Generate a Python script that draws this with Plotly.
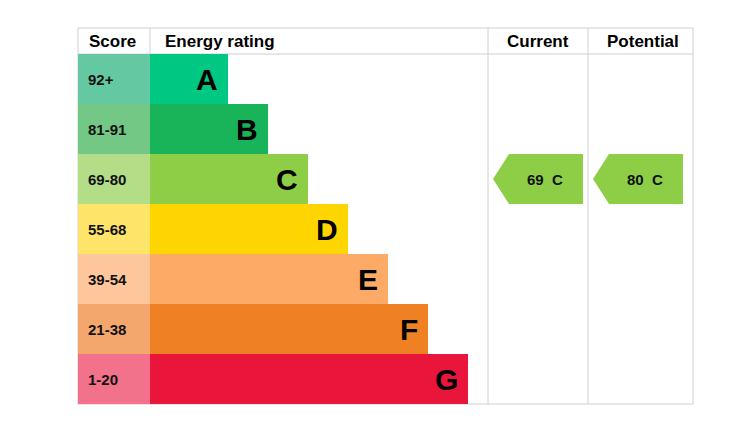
import plotly.graph_objects as go

# EPC bands
bands = ["A", "B", "C", "D", "E", "F", "G"]
scores = ["92+", "81-91", "69-80", "55-68", "39-54", "21-38", "1-20"]
bar_len = [78, 118, 158, 198, 238, 278, 318]
band_colors = ["#00c781", "#19b459", "#8dce46", "#ffd500", "#fcaa65", "#ef8023", "#e9153b"]
score_colors = ["#64c8a2", "#74c886", "#b4dd88", "#ffe46a", "#fdc69b", "#f4a76c", "#f2728c"]
current = 69
current_band = "C"
potential = 80
potential_band = "C"

rows = list(range(len(bands)))
fig = go.Figure()

fig.add_trace(go.Bar(orientation="h", y=rows, x=[72] * len(rows), base=70, width=1,
                     marker=dict(color=score_colors, line=dict(width=0)), hoverinfo="skip"))
fig.add_trace(go.Bar(orientation="h", y=rows, x=bar_len, base=142, width=1,
                     marker=dict(color=band_colors, line=dict(width=0)), hoverinfo="skip"))

for i, (b, s, L) in enumerate(zip(bands, scores, bar_len)):
    fig.add_annotation(x=142 + L - 8, y=i, text=f"<b>{b}</b>", showarrow=False, xanchor="right",
                       font=dict(size=30, color="black", family="Liberation Sans"))
    fig.add_annotation(x=78, y=i, text=f"<b>{s}</b>", showarrow=False, xanchor="left",
                       font=dict(size=15, color="#111", family="Liberation Sans"))

def arrow(x0, x1, val, band):
    r = bands.index(band)
    fig.add_trace(go.Scatter(x=[x0, x0 + 16, x1, x1, x0 + 16, x0], y=[r, r - 0.5, r - 0.5, r + 0.5, r + 0.5, r],
                             fill="toself", fillcolor=band_colors[r], line=dict(width=0), mode="lines",
                             hoverinfo="skip"))
    fig.add_annotation(x=(x0 + x1) / 2 + 7, y=r, text=f"<b>{val}  {band}</b>", showarrow=False,
                       font=dict(size=15, color="#111", family="Liberation Sans"))

arrow(485, 575, current, current_band)
arrow(585, 675, potential, potential_band)

# table grid
grid = "#d0d0d0"
shapes = [dict(type="rect", x0=70, x1=685, y0=-1.02, y1=6.5, line=dict(color=grid, width=1), layer="below")]
for xv in [142, 480, 580]:
    shapes.append(dict(type="line", x0=xv, x1=xv, y0=-1.02, y1=6.5, line=dict(color=grid, width=1), layer="below"))
shapes.append(dict(type="line", x0=70, x1=685, y0=-0.5, y1=-0.5, line=dict(color=grid, width=1), layer="below"))
fig.update_layout(shapes=shapes)

for x, t, anc in [(79, "Score", "left"), (155, "Energy rating", "left"), (530, "Current", "center"), (635, "Potential", "center")]:
    fig.add_annotation(x=x, y=-0.76, text=f"<b>{t}</b>", showarrow=False, xanchor=anc,
                       font=dict(size=17, color="black", family="Liberation Sans"))

fig.update_layout(width=740, height=428, margin=dict(l=0, r=0, t=0, b=0), showlegend=False,
                  plot_bgcolor="white", paper_bgcolor="white", barmode="overlay",
                  xaxis=dict(range=[0, 740], visible=False, fixedrange=True),
                  yaxis=dict(range=[7.14, -1.42], visible=False, fixedrange=True))
fig.write_html("out.html")
